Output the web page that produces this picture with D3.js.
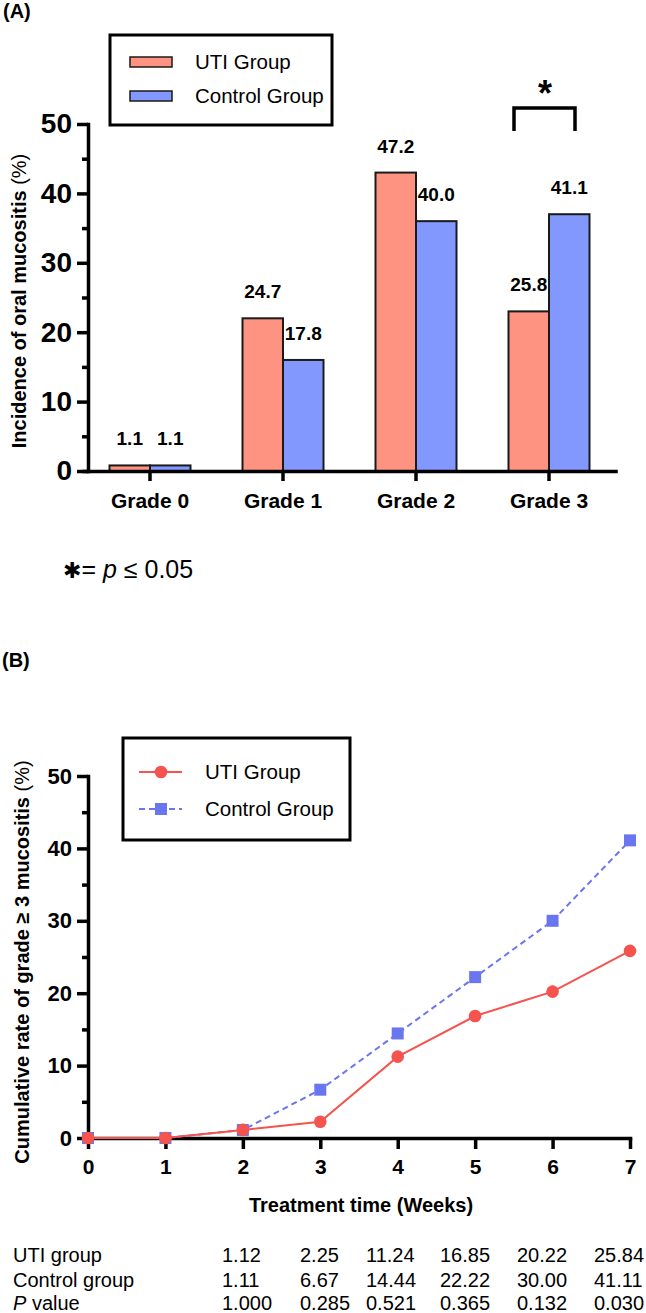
<!DOCTYPE html>
<html>
<head>
<meta charset="utf-8">
<script src="https://cdn.jsdelivr.net/npm/d3@7"></script>
<style>
    body { margin: 0; background: #fff; }
    svg { display: block; }
</style>
</head>
<body>
<svg id="chart"></svg>
<script>
// ---- data ----
const grades = ['Grade 0', 'Grade 1', 'Grade 2', 'Grade 3'];
const groups = ['UTI Group', 'Control Group'];
// bar heights as drawn in the figure
const utiBars = [0.8, 22, 43, 23];
const controlBars = [0.8, 16, 36, 37];
// value labels printed above the bars
const utiLabels = ['1.1', '24.7', '47.2', '25.8'];
const controlLabels = ['1.1', '17.8', '40.0', '41.1'];

const weeks = [0, 1, 2, 3, 4, 5, 6, 7];
const utiCumulative = [0, 0, 1.12, 2.25, 11.24, 16.85, 20.22, 25.84];
const controlCumulative = [0, 0, 1.11, 6.67, 14.44, 22.22, 30.00, 41.11];

const yTicks = [0, 10, 20, 30, 40, 50];
const yMinorTicks = [5, 15, 25, 35, 45];

const tableRows = ['UTI group', 'Control group', 'P value'];
const utiRow = ['1.12', '2.25', '11.24', '16.85', '20.22', '25.84'];
const controlRow = ['1.11', '6.67', '14.44', '22.22', '30.00', '41.11'];
const pRow = ['1.000', '0.285', '0.521', '0.365', '0.132', '0.030'];

// ---- layout ----
const W = 646, H = 1313;
const font = '"Liberation Sans", Arial, Helvetica, sans-serif';
const colors = { 'UTI Group': '#FF9381', 'Control Group': '#8298FF' };
const lineColors = { uti: '#F4534E', control: '#6A76F0' };
const tableColX = [222, 300, 366, 440, 517, 594];

const svg = d3.select('#chart')
    .attr('width', W)
    .attr('height', H)
    .style('font-family', font);

function styleAxis(g, fontSize) {
    g.attr('font-family', font).attr('font-size', fontSize).attr('font-weight', 'bold');
    g.selectAll('.domain').attr('stroke', '#000').attr('stroke-width', 3.5).attr('stroke-linecap', 'square');
    g.selectAll('.tick line').attr('stroke', '#000').attr('stroke-width', 3.5);
    g.selectAll('.tick text').attr('fill', '#000');
}

// ================= Panel A =================
const gA = svg.append('g');

gA.append('text').attr('x', 3).attr('y', 18)
    .attr('font-size', 20).attr('font-weight', 'bold').text('(A)');

const yA = d3.scaleLinear().domain([0, 50]).range([471, 124]);
const xA = d3.scaleBand().domain(grades).range([83.5, 615.5]);
const xSub = d3.scaleBand().domain(groups).range([-40.5, 40.5]);

const barData = grades.map((g, i) => ({
    grade: g,
    items: [
        { key: 'UTI Group', value: utiBars[i], label: utiLabels[i] },
        { key: 'Control Group', value: controlBars[i], label: controlLabels[i] }
    ]
}));

const groupsA = gA.selectAll('.grade')
    .data(barData)
    .enter()
    .append('g')
    .attr('transform', d => `translate(${xA(d.grade) + xA.bandwidth() / 2},0)`);

groupsA.selectAll('rect')
    .data(d => d.items)
    .enter()
    .append('rect')
    .attr('x', d => xSub(d.key))
    .attr('width', xSub.bandwidth())
    .attr('y', d => yA(d.value))
    .attr('height', d => yA(0) - yA(d.value))
    .attr('fill', d => colors[d.key])
    .attr('stroke', '#1a1a1a')
    .attr('stroke-width', 2);

groupsA.selectAll('.bar-label')
    .data(d => d.items)
    .enter()
    .append('text')
    .attr('x', d => xSub(d.key) + xSub.bandwidth() / 2)
    .attr('y', d => yA(d.value) - 20)
    .attr('text-anchor', 'middle')
    .attr('font-size', 19)
    .attr('font-weight', 'bold')
    .text(d => d.label);

// Y axis A
const yAxisA = gA.append('g')
    .attr('transform', 'translate(88,0)')
    .call(d3.axisLeft(yA).tickValues(yTicks).tickSize(11).tickSizeOuter(0).tickPadding(5));
styleAxis(yAxisA, 28);

const yMinorA = gA.append('g')
    .attr('transform', 'translate(88,0)')
    .call(d3.axisLeft(yA).tickValues(yMinorTicks).tickSize(6).tickFormat(''));
yMinorA.select('.domain').remove();
styleAxis(yMinorA, 10);

// X axis A
const xAxisA = gA.append('g')
    .attr('transform', `translate(0,${yA(0)})`)
    .call(d3.axisBottom(xA).tickSize(10).tickSizeOuter(0).tickPadding(12));
styleAxis(xAxisA, 21);

// Y title A
gA.append('text')
    .attr('transform', 'rotate(-90)')
    .attr('x', -301)
    .attr('y', 26)
    .attr('text-anchor', 'middle')
    .attr('font-size', 20)
    .call(t => {
        t.append('tspan').attr('font-weight', 'bold').text('Incidence of oral mucositis ');
        t.append('tspan').text('(%)');
    });

// Significance bracket over Grade 3
const g3 = xA('Grade 3') + xA.bandwidth() / 2;
gA.append('path')
    .attr('d', `M${g3 - 35},131V108H${g3 + 26}V131`)
    .attr('fill', 'none')
    .attr('stroke', '#000')
    .attr('stroke-width', 3.5);
gA.append('text')
    .attr('x', g3 - 4)
    .attr('y', 106)
    .attr('text-anchor', 'middle')
    .attr('font-size', 36)
    .attr('font-weight', 'bold')
    .text('*');

// Legend A
const legA = gA.append('g');
legA.append('rect')
    .attr('x', 110).attr('y', 35).attr('width', 222).attr('height', 90)
    .attr('fill', 'none').attr('stroke', '#000').attr('stroke-width', 3);
groups.forEach((k, i) => {
    const cy = 62 + i * 34;
    legA.append('rect')
        .attr('x', 130).attr('y', cy - 5).attr('width', 42).attr('height', 10)
        .attr('fill', colors[k]).attr('stroke', '#1a1a1a').attr('stroke-width', 1.5);
    legA.append('text')
        .attr('x', 195).attr('y', cy + 7)
        .attr('font-size', 20.5)
        .text(k);
});

// footnote
gA.append('text')
    .attr('x', 63)
    .attr('y', 578)
    .attr('font-size', 25)
    .call(t => {
        t.append('tspan').attr('font-family', '"DejaVu Sans", sans-serif').attr('font-size', 22).text('\u2731');
        t.append('tspan').text('= ');
        t.append('tspan').attr('font-style', 'italic').text('p');
        t.append('tspan').text(' \u2264 0.05');
    });

// ================= Panel B =================
const gB = svg.append('g');

gB.append('text').attr('x', 2).attr('y', 667)
    .attr('font-size', 20).attr('font-weight', 'bold').text('(B)');

const yB = d3.scaleLinear().domain([0, 50]).range([1138, 776]);
const xB = d3.scaleLinear().domain([0, 7]).range([88, 630]);

const yAxisB = gB.append('g')
    .attr('transform', 'translate(88,0)')
    .call(d3.axisLeft(yB).tickValues(yTicks).tickSize(11).tickSizeOuter(0).tickPadding(5));
styleAxis(yAxisB, 22);

const yMinorB = gB.append('g')
    .attr('transform', 'translate(88,0)')
    .call(d3.axisLeft(yB).tickValues(yMinorTicks).tickSize(6).tickFormat(''));
yMinorB.select('.domain').remove();
styleAxis(yMinorB, 10);

const xAxisB = gB.append('g')
    .attr('transform', `translate(0,${yB(0)})`)
    .call(d3.axisBottom(xB).tickValues(weeks).tickFormat(d3.format('d')).tickSize(11).tickSizeOuter(0).tickPadding(10));
styleAxis(xAxisB, 21);

gB.append('text')
    .attr('x', (xB(0) + xB(7)) / 2 + 2)
    .attr('y', 1212)
    .attr('text-anchor', 'middle')
    .attr('font-size', 20)
    .attr('font-weight', 'bold')
    .text('Treatment time (Weeks)');

gB.append('text')
    .attr('transform', 'rotate(-90)')
    .attr('x', -962)
    .attr('y', 29)
    .attr('text-anchor', 'middle')
    .attr('font-size', 20)
    .call(t => {
        t.append('tspan').attr('font-weight', 'bold').text('Cumulative rate of grade \u2265 3 mucositis ');
        t.append('tspan').text('(%)');
    });

const line = d3.line()
    .x(d => xB(d.week))
    .y(d => yB(d.value));

const utiPts = weeks.map((w, i) => ({ week: w, value: utiCumulative[i] }));
const controlPts = weeks.map((w, i) => ({ week: w, value: controlCumulative[i] }));

// control series
gB.append('path')
    .datum(controlPts)
    .attr('d', line)
    .attr('fill', 'none')
    .attr('stroke', lineColors.control)
    .attr('stroke-width', 2)
    .attr('stroke-dasharray', '6,4');
gB.selectAll('.ctrl-pt')
    .data(controlPts)
    .enter()
    .append('path')
    .attr('transform', d => `translate(${xB(d.week)},${yB(d.value)})`)
    .attr('d', d3.symbol(d3.symbolSquare).size(144))
    .attr('fill', lineColors.control);

// UTI series
gB.append('path')
    .datum(utiPts)
    .attr('d', line)
    .attr('fill', 'none')
    .attr('stroke', lineColors.uti)
    .attr('stroke-width', 2);
gB.selectAll('.uti-pt')
    .data(utiPts)
    .enter()
    .append('circle')
    .attr('cx', d => xB(d.week))
    .attr('cy', d => yB(d.value))
    .attr('r', 6.3)
    .attr('fill', lineColors.uti);

// Legend B
const legB = gB.append('g');
legB.append('rect')
    .attr('x', 123).attr('y', 738).attr('width', 227).attr('height', 102)
    .attr('fill', 'none').attr('stroke', '#000').attr('stroke-width', 3);
[
    { name: 'UTI Group', color: lineColors.uti, dash: null, shape: 'circle' },
    { name: 'Control Group', color: lineColors.control, dash: '6,4', shape: 'square' }
].forEach((d, i) => {
    const cy = 772 + i * 37;
    legB.append('line')
        .attr('x1', 139).attr('x2', 182).attr('y1', cy).attr('y2', cy)
        .attr('stroke', d.color).attr('stroke-width', 2)
        .attr('stroke-dasharray', d.dash);
    if (d.shape === 'circle') {
        legB.append('circle').attr('cx', 161).attr('cy', cy).attr('r', 6.3).attr('fill', d.color);
    } else {
        legB.append('path')
            .attr('transform', `translate(161,${cy})`)
            .attr('d', d3.symbol(d3.symbolSquare).size(144))
            .attr('fill', d.color);
    }
    legB.append('text')
        .attr('x', 205).attr('y', cy + 7)
        .attr('font-size', 20.5)
        .text(d.name);
});

// table below panel B
const rowValues = [utiRow, controlRow, pRow];
const rowY = [1262, 1287, 1310];
const table = gB.append('g').attr('font-size', 20);

tableRows.forEach((name, r) => {
    const label = table.append('text').attr('x', 13).attr('y', rowY[r]);
    if (name === 'P value') {
        label.append('tspan').attr('font-style', 'italic').text('P');
        label.append('tspan').text(' value');
    } else {
        label.text(name);
    }
    table.selectAll(`.cell-${r}`)
        .data(rowValues[r])
        .enter()
        .append('text')
        .attr('x', (d, i) => tableColX[i])
        .attr('y', rowY[r])
        .text(d => d);
});
</script>
</body>
</html>
